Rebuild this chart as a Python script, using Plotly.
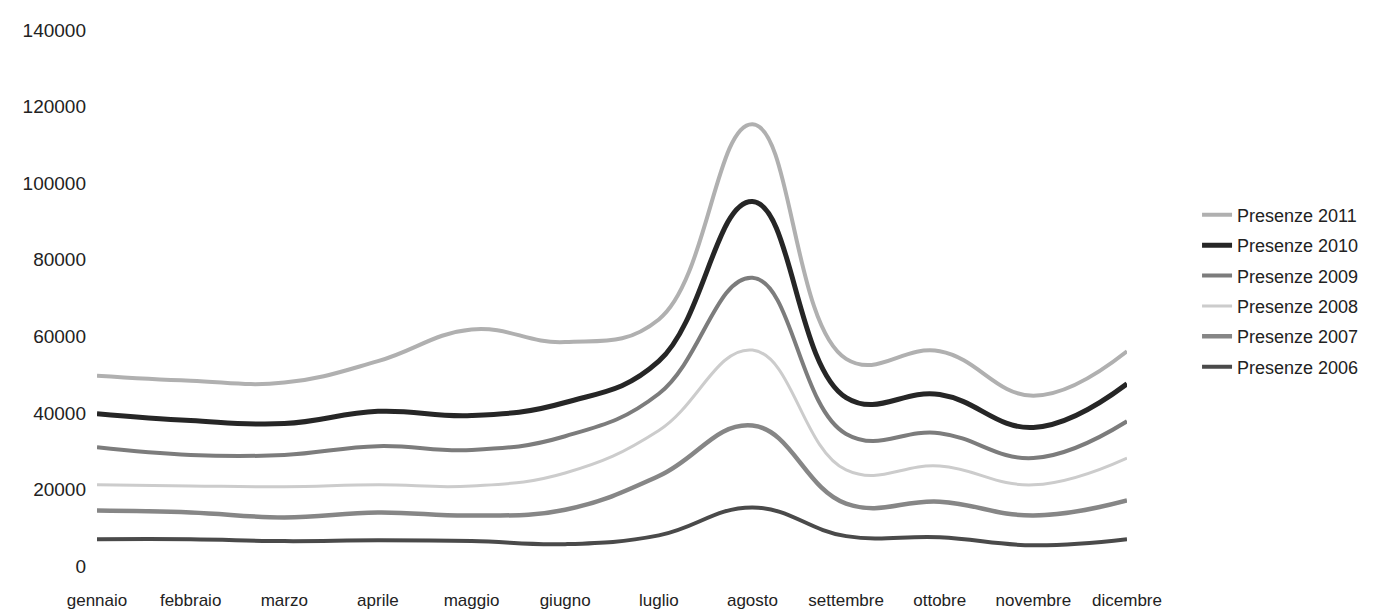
import plotly.graph_objects as go

months = ["gennaio", "febbraio", "marzo", "aprile", "maggio", "giugno",
          "luglio", "agosto", "settembre", "ottobre", "novembre", "dicembre"]

# Individual series (chart is a stacked line chart)
presenze_2006 = [7000, 7000, 6500, 6700, 6500, 5700, 8000, 15300, 7800, 7500, 5400, 7000]
presenze_2007 = [7500, 7000, 6200, 7300, 6700, 9000, 15500, 21400, 8500, 9300, 7800, 10100]
presenze_2008 = [6700, 6900, 8000, 7200, 7700, 9600, 11900, 19700, 8800, 9300, 8000, 11100]
presenze_2009 = [9800, 8100, 8300, 10100, 9400, 9600, 9600, 18900, 9400, 8600, 7000, 9600]
presenze_2010 = [8800, 9000, 8200, 9100, 9000, 8800, 8500, 19900, 9500, 10100, 8000, 9800]
presenze_2011 = [9900, 10400, 10700, 13100, 22500, 15800, 10900, 20200, 10100, 11300, 8300, 8500]

series_names = ["Presenze 2006", "Presenze 2007", "Presenze 2008",
                "Presenze 2009", "Presenze 2010", "Presenze 2011"]
series_values = [presenze_2006, presenze_2007, presenze_2008,
                 presenze_2009, presenze_2010, presenze_2011]
colors = ["#4a4a4a", "#868686", "#cccccc", "#7c7c7c", "#262626", "#b0b0b0"]
widths = [4, 4.5, 3, 4, 5, 4]

y_ticks = [0, 20000, 40000, 60000, 80000, 100000, 120000, 140000]

x = list(range(len(months)))
fig = go.Figure()
n = len(series_names)
for i, (name, vals, c, w) in enumerate(zip(series_names, series_values, colors, widths)):
    fig.add_trace(go.Scatter(
        x=x, y=vals, name=name, mode="lines",
        stackgroup="one", fill="none", legendgroup=name,
        legendrank=n - i,
        line=dict(color=c, width=w, shape="spline", smoothing=1.2),
        cliponaxis=False,
    ))

fig.update_layout(
    width=1382, height=614,
    margin=dict(l=89, r=263, t=17, b=55),
    paper_bgcolor="white", plot_bgcolor="white",
    font=dict(family="Liberation Sans, Arial, sans-serif", size=17, color="#222222"),
    showlegend=True,
    legend=dict(
        x=1.068, y=0.513, xanchor="left", yanchor="middle",
        traceorder="grouped",
        font=dict(size=18, color="#222222"),
        itemwidth=30, tracegroupgap=4,
        bgcolor="rgba(0,0,0,0)",
    ),
)
fig.update_xaxes(
    tickvals=x, ticktext=months, range=[0, 11],
    showgrid=False, zeroline=False, showline=False,
    ticks="", ticklabelstandoff=22,
)
fig.update_yaxes(
    range=[0, 140000], tickvals=y_ticks, ticktext=[str(v) for v in y_ticks],
    showgrid=False, zeroline=False, showline=False,
    ticks="", ticklabelstandoff=10, tickfont=dict(size=19),
)

fig.write_html("out.html")
